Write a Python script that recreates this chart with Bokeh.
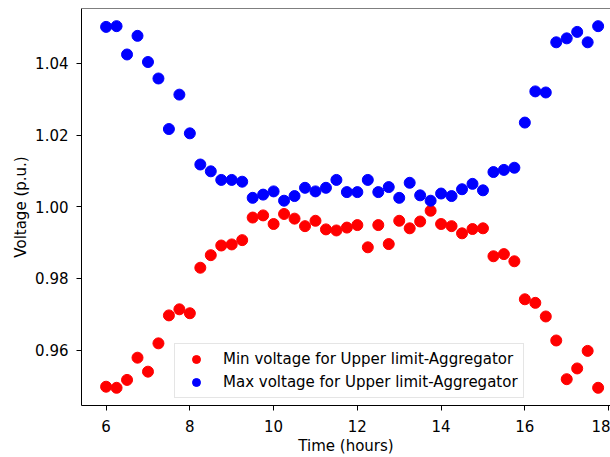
from bokeh.plotting import figure
from bokeh.models import FixedTicker, Range1d, Span, PrintfTickFormatter
from bokeh.embed import file_html
from bokeh.resources import INLINE

hours = [6.0, 6.25, 6.5, 6.75, 7.0, 7.25, 7.5, 7.75, 8.0, 8.25, 8.5, 8.75,
         9.0, 9.25, 9.5, 9.75, 10.0, 10.25, 10.5, 10.75, 11.0, 11.25, 11.5, 11.75,
         12.0, 12.25, 12.5, 12.75, 13.0, 13.25, 13.5, 13.75, 14.0, 14.25, 14.5, 14.75,
         15.0, 15.25, 15.5, 15.75, 16.0, 16.25, 16.5, 16.75, 17.0, 17.25, 17.5, 17.75]

min_voltage = [0.9498, 0.9495, 0.9517, 0.9579, 0.9540, 0.9619, 0.9697, 0.9714,
               0.9703, 0.9830, 0.9865, 0.9892, 0.9895, 0.9907, 0.9970, 0.9976,
               0.9952, 0.9980, 0.9967, 0.9946, 0.9961, 0.9937, 0.9934, 0.9942,
               0.9949, 0.9887, 0.9949, 0.9896, 0.9961, 0.9940, 0.9959, 0.9989,
               0.9952, 0.9946, 0.9926, 0.9938, 0.9940, 0.9862, 0.9868, 0.9848,
               0.9742, 0.9732, 0.9694, 0.9627, 0.9519, 0.9549, 0.9598, 0.9495]

max_voltage = [1.0502, 1.0504, 1.0425, 1.0477, 1.0404, 1.0358, 1.0217, 1.0313,
               1.0205, 1.0118, 1.0099, 1.0075, 1.0075, 1.0070, 1.0025, 1.0034,
               1.0043, 1.0017, 1.0030, 1.0053, 1.0043, 1.0053, 1.0075, 1.0041,
               1.0041, 1.0075, 1.0041, 1.0055, 1.0025, 1.0067, 1.0032, 1.0017,
               1.0037, 1.0030, 1.0049, 1.0064, 1.0046, 1.0097, 1.0103, 1.0109,
               1.0235, 1.0322, 1.0319, 1.0459, 1.0470, 1.0488, 1.0459, 1.0504]

x_ticks = [6, 8, 10, 12, 14, 16, 18]
y_ticks = [0.96, 0.98, 1.00, 1.02, 1.04]
min_label = "Min voltage for Upper limit-Aggregator"
max_label = "Max voltage for Upper limit-Aggregator"
x_title = "Time (hours)"
y_title = "Voltage (p.u.)"

X_START, X_END = 5.4125, 18.0455
Y_START, Y_END = 0.94456, 1.05533

FONT = "DejaVu Sans"
FS = "15px"

p = figure(width=610, height=457, output_backend="svg", toolbar_location=None,
           x_range=Range1d(X_START, X_END), y_range=Range1d(Y_START, Y_END),
           min_border_left=81, min_border_right=0, min_border_top=8,
           min_border_bottom=48)
p.outline_line_color = None
p.background_fill_color = "white"
p.border_fill_color = "white"
p.xgrid.visible = False
p.ygrid.visible = False

p.scatter(hours, min_voltage, size=11, fill_color="#ff0000", line_color="#ff0000",
          legend_label=min_label)
p.scatter(hours, max_voltage, size=11, fill_color="#0000ff", line_color="#0000ff",
          legend_label=max_label)

p.add_layout(Span(location=Y_END, dimension="width", line_color="black", line_width=1))

p.xaxis.ticker = FixedTicker(ticks=x_ticks)
p.yaxis.ticker = FixedTicker(ticks=y_ticks)
p.yaxis.formatter = PrintfTickFormatter(format="%.2f")
p.xaxis.axis_label = x_title
p.yaxis.axis_label = y_title

for ax in p.axis:
    ax.axis_line_color = "black"
    ax.axis_line_width = 1
    ax.major_tick_line_color = "black"
    ax.major_tick_out = 5
    ax.major_tick_in = 0
    ax.minor_tick_line_color = None
    ax.major_label_text_font = FONT
    ax.major_label_text_font_size = FS
    ax.major_label_text_color = "black"
    ax.axis_label_text_font = FONT
    ax.axis_label_text_font_size = FS
    ax.axis_label_text_color = "black"
    ax.axis_label_text_font_style = "normal"

p.xaxis.major_label_standoff = 9
p.xaxis.axis_label_standoff = 2
p.yaxis.major_label_standoff = 8
p.yaxis.axis_label_standoff = 2

lg = p.legend[0]
lg.location = (93, 7)
lg.label_text_font = FONT
lg.label_text_font_size = FS
lg.label_text_color = "black"
lg.glyph_width = 32
lg.glyph_height = 20
lg.label_height = 20
lg.label_standoff = 11
lg.padding = 5
lg.spacing = 3
lg.margin = 0
lg.border_line_color = "#cccccc"
lg.border_line_width = 1
lg.background_fill_alpha = 0.8

open("out.html", "w").write(file_html(p, INLINE))
